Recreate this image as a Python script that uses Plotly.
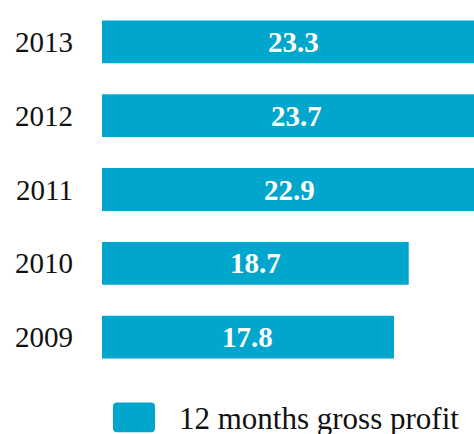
import plotly.graph_objects as go

years = ["2009", "2010", "2011", "2012", "2013"]
values = [17.8, 18.7, 22.9, 23.7, 23.3]
series_name = "12 months gross profit"

bar_color = "#00A6CC"
font_family = "Liberation Serif, Times New Roman, serif"

fig = go.Figure(
    go.Bar(
        y=years,
        x=values,
        orientation="h",
        width=0.58,
        marker=dict(color=bar_color, line=dict(width=0)),
        showlegend=False,
        hoverinfo="skip",
    )
)

for i, v in enumerate(values):
    fig.add_annotation(
        x=v / 2, y=i, xref="x", yref="y",
        text=f"<b>{v}</b>", showarrow=False,
        font=dict(family=font_family, size=29, color="white"),
        xanchor="center", yanchor="middle",
    )

# manual legend with large rounded swatch
x0, x1 = 0.0296, 0.1425
y0, y1 = -0.158, -0.077
rx, ry = 0.011, 0.011
path = (
    f"M {x0+rx},{y1} L {x1-rx},{y1} Q {x1},{y1} {x1},{y1-ry} "
    f"L {x1},{y0+ry} Q {x1},{y0} {x1-rx},{y0} "
    f"L {x0+rx},{y0} Q {x0},{y0} {x0},{y0+ry} "
    f"L {x0},{y1-ry} Q {x0},{y1} {x0+rx},{y1} Z"
)
fig.add_shape(type="path", xref="paper", yref="paper", path=path,
              fillcolor=bar_color, line=dict(width=0))
fig.add_annotation(
    x=0.2016, y=-0.1203, xref="paper", yref="paper",
    text=series_name, showarrow=False,
    font=dict(family=font_family, size=31, color="#111111"),
    xanchor="left", yanchor="middle",
)

fig.update_layout(
    width=474, height=434,
    margin=dict(l=102, r=0, t=4.5, b=59.5),
    paper_bgcolor="white", plot_bgcolor="white",
    xaxis=dict(range=[0, 22.68], visible=False, fixedrange=True),
    yaxis=dict(
        type="category", categoryorder="array", categoryarray=years,
        range=[-0.5, 4.5], showgrid=False, zeroline=False, showline=False,
        ticks="", ticklabelstandoff=28, fixedrange=True,
        tickfont=dict(family=font_family, size=29, color="#111111"),
    ),
    font=dict(family=font_family),
)

fig.write_html(
    "out.html",
    config={"displayModeBar": False},
    post_script="document.body.style.margin='0';document.body.style.overflow='hidden';",
)
